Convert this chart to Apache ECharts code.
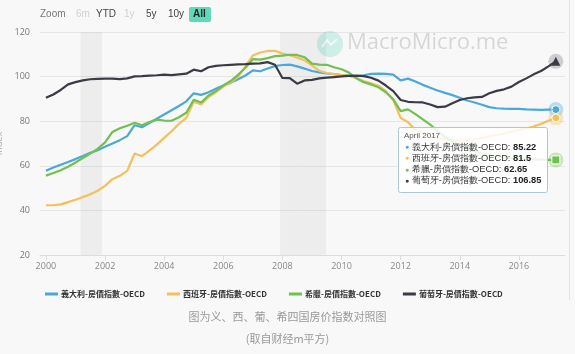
<!DOCTYPE html>
<html>
<head>
<meta charset="utf-8">
<script src="https://cdn.jsdelivr.net/npm/echarts@6/dist/echarts.min.js"></script>
<style>
  html, body { margin: 0; padding: 0; background: #f8f8f8; }
  #container { width: 575px; height: 354px; }
</style>
</head>
<body>
<div id="container"></div>
<script>
// 季度数据 2000Q1 - 2017Q2 (April 2017)
var names = ['義大利-房價指數-OECD', '西班牙-房價指數-OECD', '希臘-房價指數-OECD', '葡萄牙-房價指數-OECD'];
var colors = ['#4aa9d8', '#f2c15c', '#72c04f', '#3b3b45'];

var italy = [
  57.8, 59.2, 60.5, 61.7, 63.0, 64.4, 65.8, 67.0, 68.5, 70.0, 71.5, 73.3,
  78.2, 77.3, 79.2, 81.1, 83.0, 84.9, 86.8, 88.9, 92.5, 91.8, 93.0, 94.5,
  96.0, 97.2, 98.8, 100.5, 102.8, 102.4, 103.6, 104.7, 105.2, 105.4, 104.6, 103.6,
  102.5, 101.9, 101.4, 101.1, 100.7, 100.4, 100.1, 100.6, 101.2, 101.3, 101.2, 100.9,
  98.3, 99.1, 97.8, 96.3, 95.0, 93.8, 92.7, 91.7, 90.5, 89.3, 88.4, 87.4,
  86.3, 85.8, 85.6, 85.5, 85.5, 85.3, 85.2, 85.1, 85.2, 85.22
];
var spain = [
  42.3, 42.3, 42.7, 43.7, 44.8, 46.0, 47.2, 48.8, 51.0, 54.0, 55.5, 57.7,
  65.5, 64.3, 66.8, 69.5, 72.5, 75.5, 78.8, 81.5, 88.7, 87.5, 90.8, 93.0,
  95.5, 97.3, 100.0, 104.5, 109.5, 110.8, 111.5, 111.6, 110.3, 109.6, 108.5, 107.3,
  105.0, 102.6, 101.6, 101.1, 100.7, 100.3, 99.3, 98.0, 97.0, 95.9, 93.5, 89.5,
  81.5, 79.5, 76.0, 74.8, 73.5, 72.5, 72.0, 71.6, 71.5, 71.6, 72.0, 72.5,
  73.2, 73.8, 74.5, 75.3, 76.0, 76.8, 77.6, 78.8, 80.2, 81.5
];
var greece = [
  55.6, 56.8, 58.0, 59.6, 61.5, 63.5, 65.5, 67.6, 70.5, 75.2, 76.8, 78.0,
  79.3, 78.2, 79.6, 80.7, 80.3, 80.2, 81.8, 83.8, 89.6, 88.4, 91.5, 93.5,
  96.0, 98.0, 100.8, 104.0, 107.8, 107.6, 108.3, 109.2, 109.4, 109.8, 109.7, 108.7,
  105.8, 105.4, 105.3, 104.2, 103.3, 101.8, 99.3, 97.5, 96.5, 95.2, 93.0, 89.8,
  84.5, 85.3, 83.2, 80.8, 78.5, 75.5, 73.0, 71.0, 69.2, 67.8, 66.6, 65.6,
  64.8, 64.2, 63.8, 63.5, 63.3, 63.1, 62.9, 62.8, 62.7, 62.65
];
var portugal = [
  90.5, 92.0, 94.0, 96.5, 97.5, 98.3, 98.8, 99.0, 99.1, 99.1, 98.9, 99.2,
  100.1, 100.2, 100.4, 100.6, 100.9, 100.7, 101.0, 101.3, 103.1, 102.4, 104.2, 104.8,
  105.1, 105.3, 105.5, 105.6, 105.8, 105.9, 106.5, 105.3, 99.4, 99.3, 96.8, 98.3,
  98.5, 99.2, 99.5, 99.8, 100.1, 100.3, 100.4, 100.2, 99.5, 98.2, 96.0, 93.5,
  89.5, 88.7, 88.5, 88.4, 87.5, 86.3, 86.5, 88.0, 89.5, 90.3, 90.7, 90.9,
  92.5, 93.6, 94.3, 95.5, 97.6, 99.2, 101.0, 102.5, 104.6, 106.85
];
var allValues = [italy, spain, greece, portugal];

// 季度 (年份小数): 2000.00, 2000.25 ... 2017.25
var quarters = [];
for (var y = 2000; y <= 2017; y++) {
  [0, 0.25, 0.5, 0.75].forEach(function (q) {
    if (y < 2017 || q <= 0.25) quarters.push(y + q);
  });
}

var yearTicks = [2000, 2002, 2004, 2006, 2008, 2010, 2012, 2014, 2016];
// 阴影区间 (衰退期)
var bands = [[2001.17, 2001.9], [2007.92, 2009.48]];
var tipTitle = 'April 2017';

var xMin = 1999.8;
var xMax = 2017.56;

var symbols = ['circle', 'circle', 'rect', 'triangle'];

var series = allValues.map(function (vals, i) {
  var data = vals.map(function (v, k) { return [quarters[k], v]; });
  var last = data.pop();
  data.push({
    value: last,
    symbol: symbols[i],
    symbolSize: i === 3 ? 9 : 8,
    itemStyle: { color: colors[i], borderColor: '#fff', borderWidth: i === 3 ? 0 : 1 }
  });
  var s = {
    name: names[i],
    type: 'line',
    data: data,
    showSymbol: true,
    symbol: 'none',
    lineStyle: { width: 2.2, color: colors[i] },
    itemStyle: { color: colors[i] },
    z: 3
  };
  if (i === 0) {
    s.markArea = {
      silent: true,
      itemStyle: { color: 'rgba(0,0,0,0.045)' },
      data: bands.map(function (b) { return [{ xAxis: b[0] }, { xAxis: b[1] }]; })
    };
  }
  return s;
});

// 末端光晕
series.push({
  type: 'scatter',
  silent: true,
  z: 2,
  symbolSize: 15,
  data: allValues.map(function (vals, i) {
    return {
      value: [quarters[quarters.length - 1], vals[vals.length - 1]],
      itemStyle: { color: i === 3 ? 'rgba(60,60,70,0.22)' : colors[i], opacity: i === 3 ? 1 : 0.35 }
    };
  })
});

var tipRows = names.map(function (n, i) {
  var v = allValues[i][allValues[i].length - 1];
  return '{d' + i + '|●}{t| ' + n + ': }{b|' + v + '}';
}).join('\n');
var tipRich = {
  t: { fontSize: 9.3, fill: '#333', lineHeight: 11.3 },
  b: { fontSize: 9.3, fill: '#222', fontWeight: 'bold', lineHeight: 11.3 }
};
colors.forEach(function (c, i) { tipRich['d' + i] = { fill: c, fontSize: 7, lineHeight: 11.3 }; });

var btns = [['Zoom', 40, '#777'], ['6m', 76, '#d0d0d0'], ['YTD', 96, '#444'], ['1y', 124, '#d0d0d0'], ['5y', 146, '#444'], ['10y', 168, '#444']];

var option = {
  animation: false,
  backgroundColor: '#f8f8f8',
  textStyle: { fontFamily: 'Open Sans, "Noto Sans CJK TC", sans-serif' },
  grid: { left: 40, right: 10, top: 32, bottom: 99, outerBoundsMode: 'none', containLabel: false },
  legend: {
    left: 40,
    top: 285,
    itemWidth: 13,
    itemHeight: 3,
    itemGap: 22,
    icon: 'rect',
    data: names,
    textStyle: { fontSize: 8, color: '#333', fontWeight: 'bold', padding: [0, 0, 0, -2], fontFamily: '"Noto Sans CJK TC", sans-serif' }
  },
  xAxis: {
    type: 'value',
    min: xMin,
    max: xMax,
    axisLine: { lineStyle: { color: '#dcdcdc' } },
    axisTick: { show: true, lineStyle: { color: '#dcdcdc' }, customValues: yearTicks },
    splitLine: { show: false },
    axisLabel: {
      color: '#888',
      fontSize: 9,
      margin: 7,
      customValues: yearTicks,
      formatter: function (v) { return String(v); }
    }
  },
  yAxis: {
    type: 'value',
    min: 20,
    max: 120,
    interval: 20,
    name: 'Index',
    nameLocation: 'middle',
    nameGap: 28,
    nameTextStyle: { color: '#aaa', fontSize: 9 },
    axisLine: { show: false },
    axisTick: { show: false },
    splitLine: { lineStyle: { color: '#e6e6e6' } },
    axisLabel: { color: '#777', fontSize: 9, margin: 10 }
  },
  series: series,
  graphic: [
    { type: 'line', shape: { x1: 569.5, y1: 0, x2: 569.5, y2: 300 }, style: { stroke: '#e4e4e4', lineWidth: 1 } },
    // 缩放按钮
    { type: 'rect', shape: { x: 189, y: 7, width: 22, height: 15, r: 2 }, style: { fill: '#5fd9b8' } },
    { type: 'text', left: 193, top: 9, style: { text: 'All', fontSize: 10, fill: '#222', fontWeight: 'bold' } }
  ].concat(btns.map(function (b) {
    return { type: 'text', left: b[1], top: 9, style: { text: b[0], fontSize: 10, fill: b[2] } };
  })).concat([
    // 水印
    { type: 'circle', shape: { cx: 330, cy: 44, r: 13 }, style: { fill: 'rgba(110,215,195,0.3)' }, z: 1 },
    { type: 'polyline', shape: { points: [[322, 47], [327, 40], [331, 45], [337, 39]] }, style: { stroke: 'rgba(255,255,255,0.9)', lineWidth: 1.5, fill: null }, z: 1 },
    { type: 'text', left: 347, top: 32, z: 1, style: { text: 'MacroMicro.me', fontSize: 22, fill: 'rgba(0,0,0,0.14)', fontFamily: 'Open Sans, sans-serif' } },
    // 提示框
    { type: 'rect', z: 10, shape: { x: 398.5, y: 127.5, width: 149, height: 65, r: 2 }, style: { fill: 'rgba(255,255,255,0.85)', stroke: '#a9c9d9', lineWidth: 1 } },
    { type: 'text', z: 11, left: 404, top: 132, style: { text: tipTitle, fontSize: 8, fill: '#555' } },
    { type: 'text', z: 11, left: 405, top: 142.5, style: { text: tipRows, rich: tipRich, fontFamily: '"Noto Sans CJK TC", sans-serif' } },
    // 说明
    { type: 'text', left: 'center', top: 311, style: { text: '图为义、西、葡、希四国房价指数对照图', fontSize: 11, fill: '#999', fontFamily: '"Noto Sans CJK SC", sans-serif' } },
    { type: 'text', left: 'center', top: 333, style: { text: '(取自财经m平方)', fontSize: 11, fill: '#999', fontFamily: '"Noto Sans CJK SC", sans-serif' } }
  ])
};

var myChart = echarts.init(document.getElementById('container'), null, { renderer: 'canvas' });
myChart.setOption(option);
</script>
</body>
</html>
